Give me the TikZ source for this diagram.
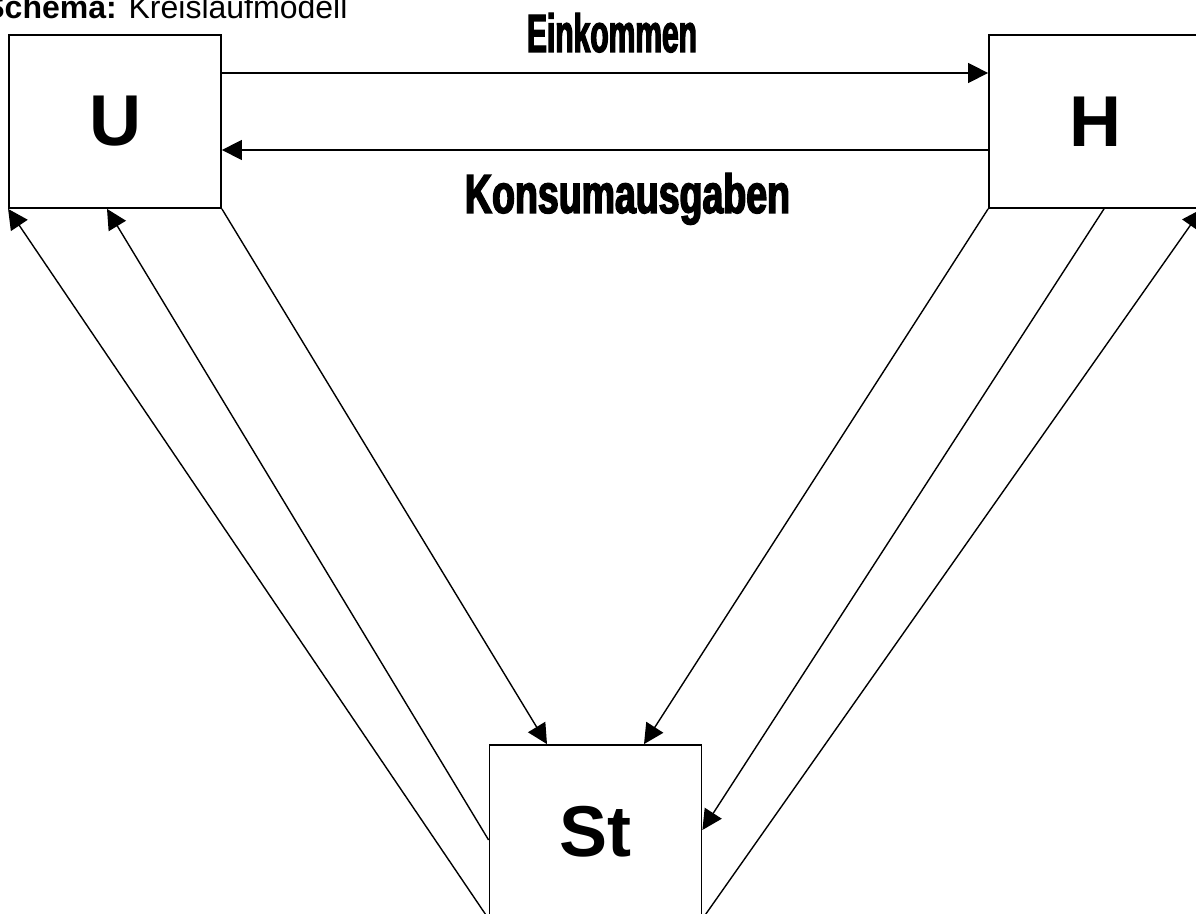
\documentclass[tikz,border=0pt]{standalone}
\usepackage{fontspec}
\setmainfont{Liberation Sans}
\newfontfamily\flowfont[FakeStretch=0.62,FakeBold=2.5]{Liberation Sans}
\usetikzlibrary{arrows.meta,positioning}
\tikzset{
     sector/.style = {draw, line width=0.9pt, minimum width=106pt, minimum height=86.5pt,
                      inner sep=0pt, font=\fontsize{36}{40}\selectfont\bfseries},
     flow/.style   = {black, ->, >={Triangle[length=10pt,width=10pt]}, line width=0.7pt},
     flowlabel/.style = {inner sep=0pt, anchor=base},
    }
\newcommand{\flowtext}[3]{\resizebox{#1}{#2}{\flowfont\bfseries #3}}

\begin{document}
\begin{tikzpicture}[x=0.5pt,y=-0.5pt,on grid]
        \useasboundingbox (0,0) rectangle (1196,914);
        \node [anchor=base west, inner sep=0pt, font=\fontsize{16}{19}\selectfont] (title) at (-17,19)
              {\textbf{Schema:} Kreislaufmodell};

        \node [sector] (U) at (115,121.5)              {U};
        \node [sector] (H) [right=490pt of U]          {H};
        \node [sector] (St) [below right=355pt and 240.25pt of U] {St};

        \node [flowlabel] (ein) at (612,52)    {\flowtext{85pt}{19.5pt}{Einkommen}};
        \node [flowlabel] (kon) at (627.5,213) {\flowtext{162.5pt}{20pt}{Konsumausgaben}};

        % Einkommen und Konsum
        \draw [flow] (U.east |- 0,73)  -- (H.west |- 0,73);
        \draw [flow] (H.west |- 0,150) -- (U.east |- 0,150);

        % Unternehmen - Staat
        \draw [flow] (St.south west)    -- (U.south west);
        \draw [flow] (St.west |- 0,840) -- (107,0 |- U.south);
        \draw [flow] (U.south east)     -- (547,0 |- St.north);

        % Haushalte - Staat
        \draw [flow] (H.south west)     -- (644,0 |- St.north);
        \draw [flow] (1104,0 |- H.south) -- (St.east |- 0,830);
        \draw [flow] (St.south east)    -- (H.south east);
    \end{tikzpicture}
\end{document}
